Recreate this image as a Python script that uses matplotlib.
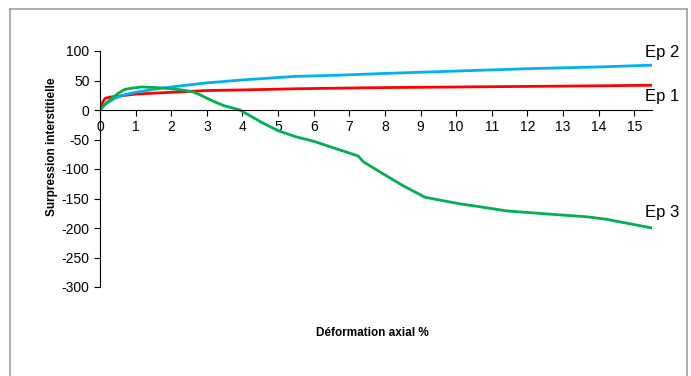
import numpy as np
import matplotlib
matplotlib.use("Agg")
import matplotlib.pyplot as plt
from matplotlib.lines import Line2D

plt.rcParams["font.family"] = ["Liberation Sans", "DejaVu Sans"]
plt.rcParams["axes.unicode_minus"] = False

# data
ep1_x = [0, 0.08, 0.15, 0.3, 0.6, 1, 2, 3, 4, 5.5, 6.7, 8, 10, 12, 14, 15.5]
ep1_y = [0, 14, 20, 22, 24, 27, 30, 33, 34, 36, 37, 38, 39, 40, 41, 42]

ep2_x = [0, 0.15, 0.42, 0.7, 1, 1.5, 2, 3, 4, 5.5, 6.7, 8, 10, 12, 14, 15.5]
ep2_y = [0, 10, 20, 26, 30, 35, 39, 46, 51, 57, 59, 62, 66, 70, 73, 76]

ep3_x = [0, 0.14, 0.3, 0.5, 0.7, 0.9, 1.17, 1.6, 2, 2.3, 2.6, 2.8, 3, 3.25, 3.5,
         3.93, 4.54, 5, 5.48, 6, 7.25, 7.4, 8, 8.5, 9.13, 10.1, 10.67, 11.42,
         12.5, 13.67, 14.2, 15.5]
ep3_y = [0, 10, 18, 28, 35, 37, 39, 38, 36, 34, 31, 26, 20, 13, 7,
         0, -21, -35, -45, -53, -78, -88, -110, -128, -148, -159, -164, -171,
         -176, -181, -185, -200]

x_ticks = list(range(0, 16))
y_ticks = [100, 50, 0, -50, -100, -150, -200, -250, -300]

fig = plt.figure(figsize=(6.91, 3.76), dpi=100)
ax = fig.add_axes([100 / 691, 89 / 376, 552 / 691, 236 / 376])

ax.plot(ep1_x, ep1_y, color="#FF0000", lw=2)
ax.plot(ep2_x, ep2_y, color="#00B0F0", lw=2)
ax.plot(ep3_x, ep3_y, color="#00B050", lw=2)

ax.set_xlim(0, 15.5)
ax.set_ylim(-300, 100)
ax.set_xticks(x_ticks)
ax.set_yticks(y_ticks)
ax.tick_params(labelsize=10, length=4, width=0.8, colors="black")
ax.spines["top"].set_visible(False)
ax.spines["right"].set_visible(False)
ax.spines["bottom"].set_position(("data", 0))

ax.text(15.3, 84, "Ep 2", fontsize=12, ha="left", va="bottom", clip_on=False)
ax.text(15.3, 36, "Ep 1", fontsize=12, ha="left", va="top", clip_on=False)
ax.text(15.3, -186, "Ep 3", fontsize=12, ha="left", va="bottom", clip_on=False)

fig.text(372 / 691, 1 - 333 / 376, "Déformation axial %", fontsize=8.5,
         fontweight="bold", ha="center", va="center")
fig.text(52 / 691, 1 - 147 / 376, "Surpression interstitielle", fontsize=8.5,
         fontweight="bold", ha="center", va="center", rotation=90)

# grey chart frame
fx0, fx1, fy1 = 9.5 / 691, 686.5 / 691, 1 - 8.5 / 376
frame = dict(color="#A0A0A0", lw=1.2, transform=fig.transFigure)
fig.add_artist(Line2D([fx0, fx0], [0, fy1], **frame))
fig.add_artist(Line2D([fx1, fx1], [0, fy1], **frame))
fig.add_artist(Line2D([fx0, fx1], [fy1, fy1], **frame))

fig.savefig("out.png", dpi=100)
